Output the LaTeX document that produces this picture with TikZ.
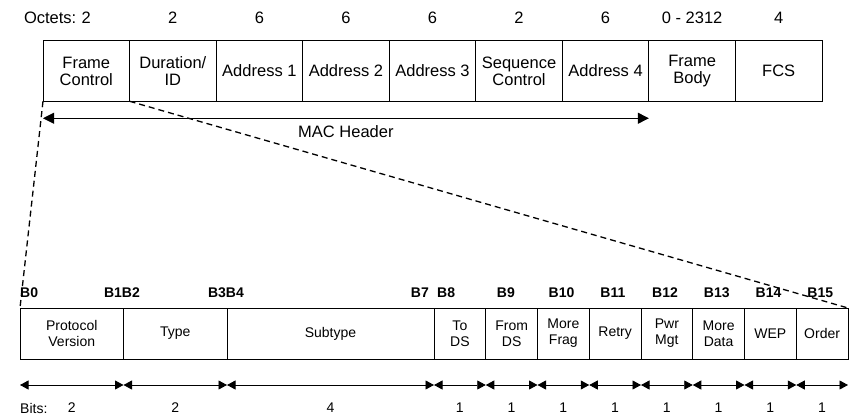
\documentclass[tikz,border=0pt]{standalone}
\usepackage{fontspec}
\setmainfont{Liberation Sans}
\usetikzlibrary{arrows.meta,positioning}

\begin{document}
\begin{tikzpicture}[x=1pt, y=-1pt, >={Triangle[length=8.5pt,width=9pt]},
    champ/.style={draw, line width=0.8pt, inner sep=0pt, outer sep=0pt, align=center,
        minimum width=86.55pt, minimum height=60.5pt, font=\fontsize{16.5}{17}\selectfont},
    bit/.style={draw, line width=0.8pt, inner sep=0pt, outer sep=0pt, align=center,
        minimum height=51pt, font=\fontsize{14}{16}\selectfont},
    lbl/.style={inner sep=1pt, font=\fontsize{16.5}{18}\selectfont},
    blbl/.style={inner sep=0pt, font=\fontsize{14}{16}\selectfont\bfseries},
    nlbl/.style={inner sep=0pt, font=\fontsize{14}{16}\selectfont},
    zoom/.style={dash pattern=on 6pt off 4pt, line width=1.3pt}]

    \useasboundingbox (0,0) rectangle (850,418);

    % trame MAC
    \foreach \t [count=\i] in {{Frame\\Control},{Duration/\\ID},Address 1,Address 2,Address 3,
        {Sequence\\Control},Address 4,{Frame\\Body},FCS}
        \node[champ] (f\i) at ({43+86.55*(\i-0.5)},71) {\t};
    \foreach \n [count=\i] in {2,2,6,6,6,2,6,0 - 2312,4}
        \node[lbl] (o\i) at ({43+86.55*(\i-0.5)},18) {\n};
    \node[lbl, left=3pt of o1] (oct) {Octets:};

    % en-tete MAC
    \coordinate (macG) at ([yshift=-17pt]f1.south west);
    \coordinate (macD) at ([yshift=-17pt]f7.south east);
    \draw[<->, line width=0.9pt, >={Triangle[length=11pt,width=11pt]}] (macG) -- node[lbl, below=6pt] (mac) {MAC Header} (macD);

    % Frame Control
    \foreach \s/\l/\t [count=\i] in {0/2/{Protocol\\Version},2/2/Type,4/4/Subtype,8/1/{To\\DS},
        9/1/{From\\DS},10/1/{More\\Frag},11/1/Retry,12/1/{Pwr\\Mgt},13/1/{More\\Data},14/1/WEP,15/1/Order}
        \node[bit, minimum width=\l*51.75pt] (b\i) at ({20+51.75*(\s+\l/2)},333.5) {\t};

    \draw[zoom] (f1.south west) -- (b1.north west);
    \draw[zoom] (f1.south east) -- (b11.north east);

    % numeros de bits
    \node[blbl, anchor=west] (B0) at (20,293) {B0};
    \node[blbl] (B1B2) at (122,293) {B1B2};
    \node[blbl] (B3B4) at (226,293) {B3B4};
    \node[blbl, anchor=east] (B7) at (429,293) {B7};
    \node[blbl, anchor=west] (B8) at (437,293) {B8};
    \foreach \k in {9,...,15}
        \node[blbl, anchor=west] (B\k) at ({20+51.75*\k+11},293) {B\k};

    % longueurs
    \foreach \i in {1,...,11}
        \draw[<->, line width=0.9pt] ([yshift=-26pt]b\i.south west) -- ([yshift=-26pt]b\i.south east);
    \node[nlbl, anchor=west] (bits) at (20,408) {Bits:};
    \foreach \n [count=\i] in {2,2,4,1,1,1,1,1,1,1,1}
        \node[nlbl] (n\i) at (b\i.center |- 0,408) {\n};
\end{tikzpicture}
\end{document}
